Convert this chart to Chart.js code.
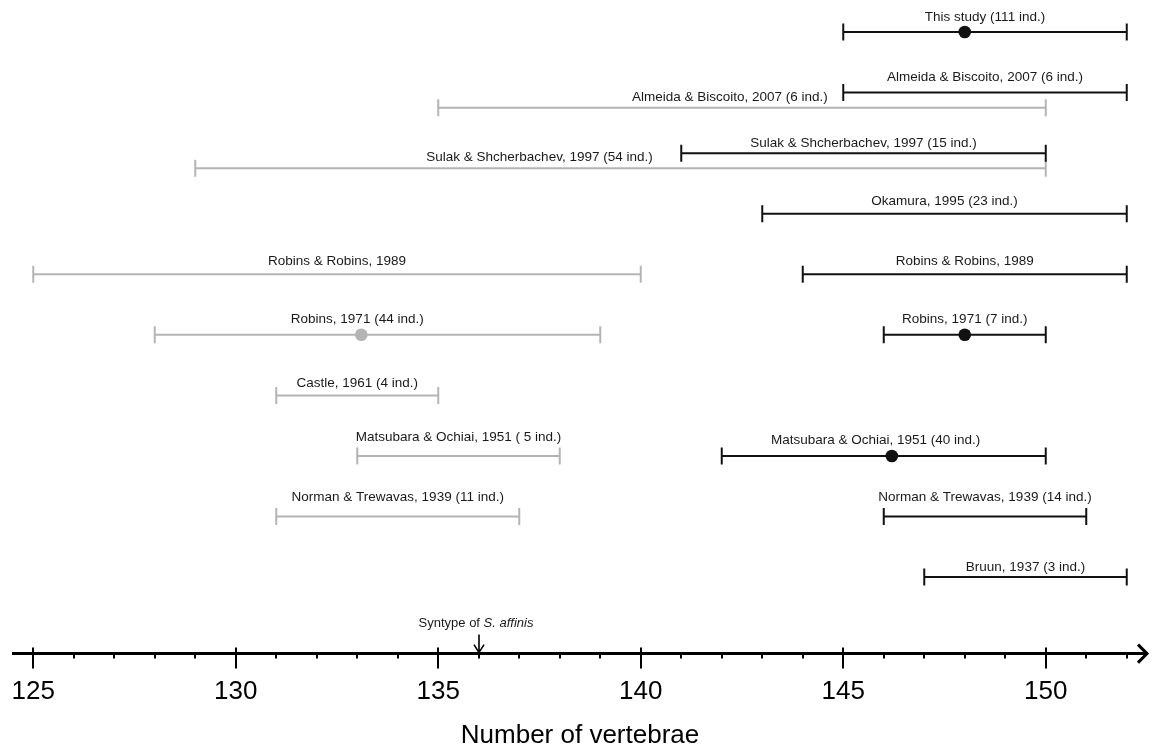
<!DOCTYPE html>
<html>
<head>
<meta charset="utf-8">
<script src="https://cdn.jsdelivr.net/npm/chart.js@4.4.0/dist/chart.umd.min.js"></script>
<style>
  html, body { margin: 0; padding: 0; background: #fff; }
  canvas { display: block; }
</style>
</head>
<body>
<canvas id="myChart" width="1153" height="751"></canvas>
<script>
const studies = [
  "This study (111 ind.)",
  "Almeida & Biscoito, 2007 (6 ind.)",
  "Almeida & Biscoito, 2007 (6 ind.)",
  "Sulak & Shcherbachev, 1997 (15 ind.)",
  "Sulak & Shcherbachev, 1997 (54 ind.)",
  "Okamura, 1995 (23 ind.)",
  "Robins & Robins, 1989",
  "Robins & Robins, 1989",
  "Robins, 1971 (44 ind.)",
  "Robins, 1971 (7 ind.)",
  "Castle, 1961 (4 ind.)",
  "Matsubara & Ochiai, 1951 ( 5 ind.)",
  "Matsubara & Ochiai, 1951 (40 ind.)",
  "Norman & Trewavas, 1939 (11 ind.)",
  "Norman & Trewavas, 1939 (14 ind.)",
  "Bruun, 1937 (3 ind.)"
];
// row number of each bar, top to bottom
const rows = [0, 1, 1.25, 2, 2.25, 3, 4, 4, 5, 5, 6, 7, 7, 8, 8, 9];
const lows = [145, 145, 135, 141, 129, 143, 125, 144, 128, 146, 131, 133, 142, 131, 146, 147];
const highs = [152, 152, 150, 150, 150, 152, 140, 152, 139, 150, 135, 138, 150, 137, 151, 152];
const means = [148, null, null, null, null, null, null, null, 133.1, 148, null, null, 146.2, null, null, null];
// "b" = black bars, "g" = grey bars
const groups = ["b", "b", "g", "b", "g", "b", "g", "b", "g", "b", "g", "g", "b", "g", "b", "b"];
// value on the x axis where each caption is centred
const captionAt = [148.5, 148.5, 142.2, 145.5, 137.5, 147.5, 132.5, 148, 133, 148, 133, 135.5, 145.8, 134, 148.5, 149.5];
const tickValues = [125, 126, 127, 128, 129, 130, 131, 132, 133, 134, 135, 136, 137, 138, 139, 140,
  141, 142, 143, 144, 145, 146, 147, 148, 149, 150, 151, 152];
const syntypeAt = 136;

// layout only: how far (px) each caption sits above its bar
const captionLift = [15, 15, 10, 10, 11, 12, 13, 13, 16, 16, 12, 19, 16, 19, 19, 10];

const BLACK = "#111111";
const GREY = "#b4b4b4";
const FONT = "Arial, 'Liberation Sans', sans-serif";

const colorOf = (g) => (g === "b" ? BLACK : GREY);

const rangeSets = studies.map((name, i) => ({
  label: name,
  data: [
    { x: lows[i], y: rows[i] },
    { x: highs[i], y: rows[i] },
  ],
  showLine: true,
  borderColor: colorOf(groups[i]),
  borderWidth: 2,
  pointStyle: "line",
  pointRotation: 90,
  pointRadius: 8.5,
  pointHoverRadius: 8.5,
  pointBorderColor: colorOf(groups[i]),
  pointBorderWidth: 2,
  order: 1,
}));

const meanSet = (g) => ({
  label: "mean " + g,
  data: means
    .map((m, i) => (m !== null && groups[i] === g ? { x: m, y: rows[i] } : null))
    .filter((p) => p),
  showLine: false,
  pointStyle: "circle",
  pointRadius: 6.3,
  pointHoverRadius: 6.3,
  pointBackgroundColor: colorOf(g),
  pointBorderWidth: 0,
  order: 0,
});

const captions = {
  id: "captions",
  afterDatasetsDraw(chart) {
    const { ctx, scales } = chart;
    ctx.save();
    ctx.font = "13.5px " + FONT;
    ctx.fillStyle = "#1a1a1a";
    ctx.textAlign = "center";
    ctx.textBaseline = "middle";
    studies.forEach((name, i) => {
      const x = scales.x.getPixelForValue(captionAt[i]);
      const y = scales.y.getPixelForValue(rows[i]) - captionLift[i];
      ctx.fillText(name, x, y);
    });
    ctx.restore();
  },
};

const axisDecor = {
  id: "axisDecor",
  afterDraw(chart) {
    const { ctx, scales, chartArea } = chart;
    const base = chartArea.bottom;
    ctx.save();
    ctx.strokeStyle = "#000";
    ctx.lineWidth = 2;
    tickValues.forEach((v) => {
      const x = Math.round(scales.x.getPixelForValue(v));
      ctx.beginPath();
      if (v % 5 === 0) {
        ctx.moveTo(x, base - 6);
        ctx.lineTo(x, base + 15);
      } else {
        ctx.moveTo(x, base);
        ctx.lineTo(x, base + 5);
      }
      ctx.stroke();
    });
    // arrow head at the right end of the axis
    ctx.lineWidth = 3;
    ctx.beginPath();
    ctx.moveTo(chartArea.right - 9, base - 9);
    ctx.lineTo(chartArea.right, base);
    ctx.lineTo(chartArea.right - 9, base + 9);
    ctx.stroke();
    // syntype marker
    const sx = Math.round(scales.x.getPixelForValue(syntypeAt));
    ctx.lineWidth = 1.6;
    ctx.beginPath();
    ctx.moveTo(sx, base - 19);
    ctx.lineTo(sx, base - 1);
    ctx.moveTo(sx - 5, base - 9);
    ctx.lineTo(sx, base - 1);
    ctx.lineTo(sx + 5, base - 9);
    ctx.stroke();
    const partA = "Syntype of ";
    const partB = "S. affinis";
    ctx.fillStyle = "#1a1a1a";
    ctx.textBaseline = "middle";
    ctx.textAlign = "left";
    ctx.font = "13px " + FONT;
    const wA = ctx.measureText(partA).width;
    ctx.font = "italic 13px " + FONT;
    const wB = ctx.measureText(partB).width;
    const left = sx - (wA + wB) / 2 - 3;
    ctx.font = "13px " + FONT;
    ctx.fillText(partA, left, base - 30);
    ctx.font = "italic 13px " + FONT;
    ctx.fillText(partB, left + wA, base - 30);
    ctx.restore();
  },
};

const config = {
  type: "scatter",
  data: { datasets: [meanSet("b"), meanSet("g"), ...rangeSets] },
  options: {
    responsive: false,
    animation: false,
    events: [],
    layout: { autoPadding: false, padding: { left: 13, right: 6, top: 0, bottom: 0 } },
    plugins: {
      legend: { display: false },
      tooltip: { enabled: false },
    },
    scales: {
      x: {
        type: "linear",
        position: "bottom",
        min: 124.5,
        max: 152.5,
        afterBuildTicks: (axis) => {
          axis.ticks = tickValues.map((v) => ({ value: v }));
        },
        ticks: {
          autoSkip: false,
          maxRotation: 0,
          padding: 8,
          color: "#000",
          font: { family: FONT, size: 26 },
          callback: (v) => (v % 5 === 0 ? String(v) : ""),
        },
        grid: {
          display: true,
          drawOnChartArea: false,
          drawTicks: true,
          tickLength: 15,
          tickColor: "rgba(0,0,0,0)",
        },
        border: { display: true, color: "#000", width: 3 },
        title: {
          display: true,
          text: "Number of vertebrae",
          color: "#000",
          font: { family: FONT, size: 26 },
          padding: { top: 4, bottom: 0 },
        },
      },
      y: {
        type: "linear",
        display: false,
        reverse: true,
        min: -0.529,
        max: 10.264,
      },
    },
  },
  plugins: [captions, axisDecor],
};

var myChart = new Chart(document.getElementById("myChart"), config);
</script>
</body>
</html>
